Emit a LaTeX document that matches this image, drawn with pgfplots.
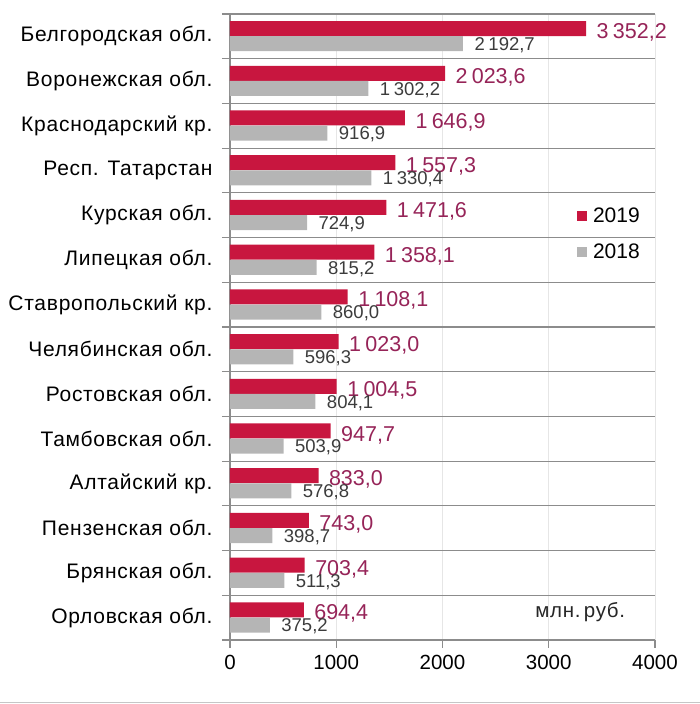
\documentclass[border=0pt]{standalone}
\usepackage{pgfplots}
\pgfplotsset{compat=1.18}
\usepackage{fontspec}
\setmainfont{Liberation Sans}
\newfontfamily\lsfont[LetterSpace=3.5]{Liberation Sans}
\definecolor{c19}{HTML}{C8163F}
\definecolor{c18}{HTML}{B5B5B5}
\definecolor{lab19}{HTML}{962458}
\definecolor{lab18}{HTML}{3C3C3C}
\definecolor{sepc}{HTML}{8C8C8C}
\definecolor{gridc}{HTML}{E6E6E6}
\begin{document}
\begin{tikzpicture}[x=1pt,y=1pt]
\useasboundingbox (0,0) rectangle (700,704);
\draw[gray!45, line width=1pt] (0,1) -- (700,1);
\begin{axis}[
  at={(230pt,64pt)}, anchor=south west, scale only axis,
  width=425pt, height=626pt,
  xbar, bar width=15pt,
  xmin=0, xmax=4000, ymin=-0.5, ymax=13.5,
  axis x line*=bottom, axis y line*=left,
  axis line style={draw=sepc, line width=1.2pt},
  /pgf/number format/assume math mode=true,
  xtick={0,1000,2000,3000,4000},
  xticklabels={0,1000,2000,3000,4000},
  xmajorgrids, ymajorgrids,
  x grid style={draw=gridc, line width=0.8pt},
  y grid style={draw=sepc, line width=1.2pt},
  ytick={-0.5,0.5,...,13.5},
  yticklabels={},
  extra y ticks={0,1,2,3,4,5,6,7,8,9,10,11,12,13},
  extra y tick labels={Орловская обл.,Брянская обл.,Пензенская обл.,Алтайский кр.,Тамбовская обл.,Ростовская обл.,Челябинская обл.,Ставропольский кр.,Липецкая обл.,Курская обл.,Респ. Татарстан,Краснодарский кр.,Воронежская обл.,Белгородская обл.},
  extra y tick style={grid=none, tick style={draw=none}},
  tick align=outside,
  major tick length=8pt,
  tick style={draw=sepc, line width=1.2pt},
  yticklabel style={font=\lsfont\fontsize{21}{21}\selectfont, xshift=-6pt},
  xticklabel style={font=\fontsize{20.5}{20}\selectfont, yshift=-4pt},
  legend style={at={(0.809,0.697)}, anchor=north west, draw=none, fill=none,
    font=\fontsize{21}{21}\selectfont, row sep=16pt,
    /tikz/every odd column/.append style={column sep=4pt}},
  legend cell align=left,
  legend image code/.code={\fill[#1, draw=none] (0pt,-5pt) rectangle (10pt,5pt);},
]
\addplot+[fill=c19, draw=none, bar shift=7.8pt,
  nodes near coords={\pgfmathprintnumber[fixed,fixed zerofill,precision=1,use comma,1000 sep={\hspace{0.2em}}]{\pgfplotspointmeta}},
  every node near coord/.append style={anchor=west, xshift=7pt, yshift=-4pt, font=\fontsize{21.5}{21}\selectfont, text=lab19}]
  coordinates {
  (694.4,0) (703.4,1) (743.0,2) (833.0,3) (947.7,4) (1004.5,5) (1023.0,6)
  (1108.1,7) (1358.1,8) (1471.6,9) (1557.3,10) (1646.9,11) (2023.6,12) (3352.2,13)};
\addlegendentry{2019}
\addplot+[fill=c18, draw=none, bar shift=-7.4pt,
  nodes near coords={\pgfmathprintnumber[fixed,fixed zerofill,precision=1,use comma,1000 sep={\hspace{0.2em}}]{\pgfplotspointmeta}},
  every node near coord/.append style={anchor=west, xshift=8pt, yshift=-1.5pt, font=\fontsize{18.5}{18}\selectfont, text=lab18}]
  coordinates {
  (375.2,0) (511.3,1) (398.7,2) (576.8,3) (503.9,4) (804.1,5) (596.3,6)
  (860.0,7) (815.2,8) (724.9,9) (1330.4,10) (916.9,11) (1302.2,12) (2192.7,13)};
\addlegendentry{2018}
\node[font=\lsfont\fontsize{20.5}{20}\selectfont, text=black!85] at (rel axis cs:0.824,0.045) {млн.\,руб.};
\end{axis}
\end{tikzpicture}
\end{document}
